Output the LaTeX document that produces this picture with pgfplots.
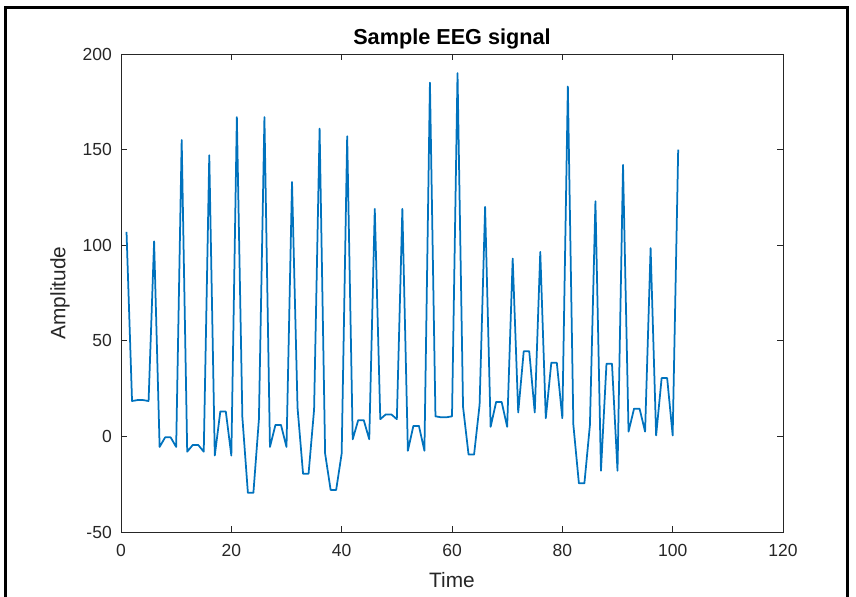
\documentclass[border=0pt]{standalone}
\usepackage{fontspec}
\setmainfont{Liberation Sans}
\usepackage{pgfplots}
\usepackage{pgfplotstable}
\pgfplotsset{compat=1.18}

\definecolor{mlblue}{rgb}{0,0.447,0.741}
\definecolor{mlgray}{rgb}{0.15,0.15,0.15}

% sample EEG trace, one value per time step
\pgfplotstableread{
t v
1 107
2 18.5
3 19
4 19
5 18.5
6 102
7 -5.5
8 -0.5
9 -0.5
10 -5.5
11 155
12 -8
13 -4.5
14 -4.5
15 -8
16 147
17 -10
18 13
19 13
20 -10
21 167
22 10
23 -29.5
24 -29.5
25 9
26 167
27 -5.5
28 6
29 6
30 -5.5
31 133
32 15
33 -19.5
34 -19.5
35 14
36 161
37 -9
38 -28
39 -28
40 -9
41 157
42 -1.5
43 8.5
44 8.5
45 -1.5
46 119
47 9
48 11.5
49 11.5
50 9
51 119
52 -7.5
53 5.5
54 5.5
55 -7.5
56 185
57 10.5
58 10
59 10
60 10.5
61 190
62 15.5
63 -9.5
64 -9.5
65 16.5
66 120
67 5
68 18
69 18
70 5
71 93
72 12.5
73 44.5
74 44.5
75 12.5
76 96.5
77 9.5
78 38.5
79 38.5
80 9.5
81 183
82 6
83 -24.5
84 -24.5
85 6
86 123
87 -18
88 38
89 38
90 -18
91 142
92 2.5
93 14.5
94 14.5
95 2.5
96 98.5
97 0.5
98 30.5
99 30.5
100 0.5
101 150
}\eegdata

\begin{document}
\begin{tikzpicture}
\useasboundingbox (0,0) rectangle (513.6pt,358.2pt);
% figure frame (screenshot edge)
\draw[line width=1.8pt] (3pt,0) -- (3pt,353.4pt) -- (508.2pt,353.4pt) -- (508.2pt,0);
\begin{axis}[
    at={(72.6pt,39pt)}, anchor=south west,
    scale only axis,
    width=397.2pt, height=286.8pt,
    xmin=0, xmax=120, ymin=-50, ymax=200,
    xtick={0,20,...,120}, ytick={-50,0,...,200},
    tick align=inside, major tick length=3.5pt,
    axis line style={mlgray, line width=0.5pt},
    tick style={mlgray, line width=0.5pt},
    ticklabel style={font=\fontsize{10.5}{12}\selectfont, text=mlgray},
    /pgf/number format/assume math mode=true,
    xticklabel style={yshift=-4pt},
    yticklabel style={xshift=-2pt},
    title={\textbf{Sample EEG signal}},
    title style={font=\fontsize{13}{15}\selectfont, at={(axis description cs:0.5,1.038)}, anchor=center, yshift=-7.8pt},
    xlabel={Time}, ylabel={Amplitude},
    label style={font=\fontsize{12.5}{14}\selectfont, text=mlgray},
    xlabel style={at={(axis description cs:0.5,-0.1)}, anchor=center},
    ylabel style={at={(axis description cs:-0.092,0.5)}, anchor=center},
]
\addplot[mlblue, line width=1.05pt, line join=round, no marks] table[x=t, y=v] {\eegdata};
\end{axis}
\end{tikzpicture}
\end{document}
